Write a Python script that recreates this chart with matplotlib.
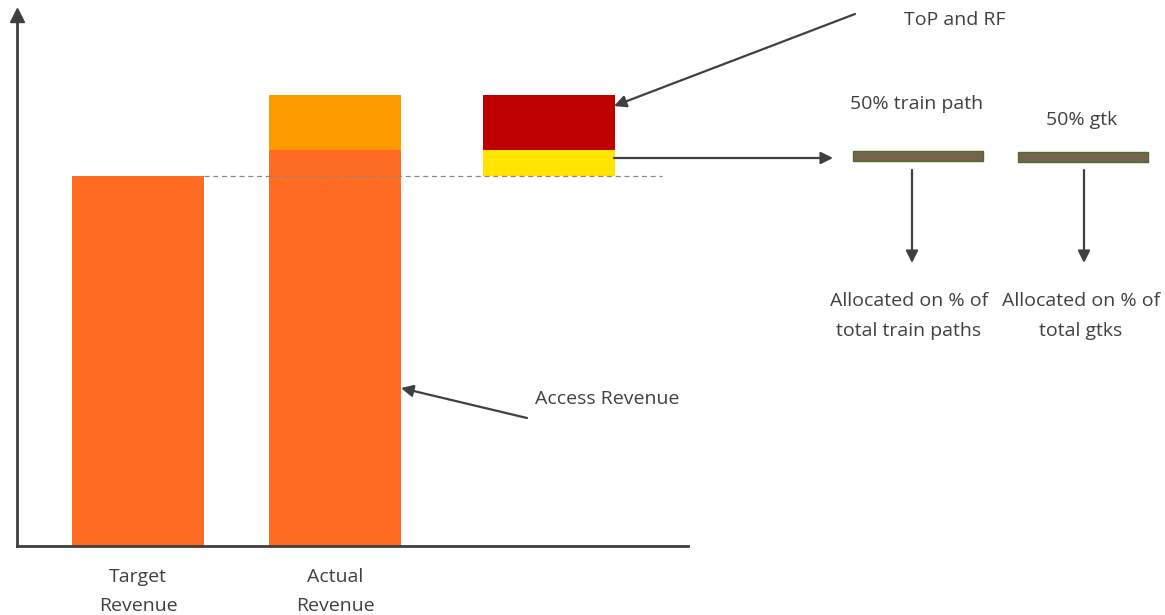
import matplotlib.pyplot as plt

plt.rcParams['font.family'] = ['Open Sans', 'DejaVu Sans']

# bar data (value units)
categories = ['Target\nRevenue', 'Actual\nRevenue', '']
positions = [0, 1, 2.086]
target_revenue = 100
access_revenue = 107
actual_extra = 15          # orange cap on top of actual
top_rf_yellow = access_revenue - target_revenue
top_rf_red = 15
split_labels = ['50% train path', '50% gtk']
split_shares = [50, 50]
alloc_labels = ['Allocated on % of\ntotal train paths', 'Allocated on % of\ntotal gtks']

ORANGE = '#fd6c22'
ORANGE2 = '#fd9a00'
RED = '#bf0000'
YELLOW = '#ffe500'
GREY = '#404040'
TXT = '#404040'
FS = 14

fig = plt.figure(figsize=(11.65, 6.15), dpi=100)
ax = fig.add_axes([17 / 1165, 69 / 615, 671 / 1165, 531 / 615])
w = 0.67

ax.bar(positions[0], target_revenue, width=w, color=ORANGE)
ax.bar(positions[1], access_revenue, width=w, color=ORANGE)
ax.bar(positions[1], actual_extra, bottom=access_revenue, width=w, color=ORANGE2)
ax.bar(positions[2], top_rf_yellow, bottom=target_revenue, width=w, color=YELLOW)
ax.bar(positions[2], top_rf_red, bottom=target_revenue + top_rf_yellow, width=w, color=RED)

# dashed target line
ax.plot([positions[0] + w / 2, 2.66], [target_revenue, target_revenue],
        ls=(0, (4, 3)), color='#888888', lw=0.9, zorder=3)

ax.set_xlim(-0.614, 2.792)
ax.set_ylim(0, 143.5)
for s in ['top', 'right']:
    ax.spines[s].set_visible(False)
for s in ['left', 'bottom']:
    ax.spines[s].set_color(GREY)
    ax.spines[s].set_linewidth(2)
ax.plot(-0.614, 143.5, marker='^', ms=10, color=GREY, clip_on=False)
ax.set_yticks([])
ax.set_xticks(positions)
ax.set_xticklabels(categories, fontsize=FS, color=TXT)
ax.tick_params(axis='x', length=0, pad=16)
for lab in ax.get_xticklabels():
    lab.set_linespacing(1.75)

# overlay in pixel layout for the diagram annotations
ov = fig.add_axes([0, 0, 1, 1], zorder=5)
ov.set_xlim(0, 1165)
ov.set_ylim(615, 0)
ov.axis('off')
ov.patch.set_alpha(0)

arrow = dict(arrowstyle='-|>', color=GREY, lw=1.6, mutation_scale=18, shrinkA=0, shrinkB=0)

ov.annotate('', xy=(401, 388), xytext=(527, 418), arrowprops=arrow)
ov.text(535, 399, 'Access Revenue', fontsize=FS, color=TXT, va='center', ha='left')

ov.annotate('', xy=(614, 106), xytext=(855, 14), arrowprops=arrow)
ov.text(955, 20, 'ToP and RF', fontsize=FS, color=TXT, va='center', ha='center')

ov.annotate('', xy=(833, 158), xytext=(614, 158), arrowprops=arrow)

# split bars
bar_x = [853, 1018]
bar_y = [151, 152]
label_x = [917, 1082]
label_y = [104, 120]
arrow_x = [912, 1084]
for i in range(2):
    bw = split_shares[i] * 2.6
    ov.barh(bar_y[i] + 5, bw, height=10, left=bar_x[i], color='#76634d',
            edgecolor='#4e6b2e', lw=1)
    ov.text(label_x[i], label_y[i], split_labels[i], fontsize=FS, color=TXT,
            ha='center', va='center')
    ov.annotate('', xy=(arrow_x[i], 263), xytext=(arrow_x[i], 170), arrowprops=arrow)
    ov.text(arrow_x[i] - 3, 316, alloc_labels[i], fontsize=FS, color=TXT,
            ha='center', va='center', linespacing=1.8)

fig.savefig('out.png', dpi=100)
